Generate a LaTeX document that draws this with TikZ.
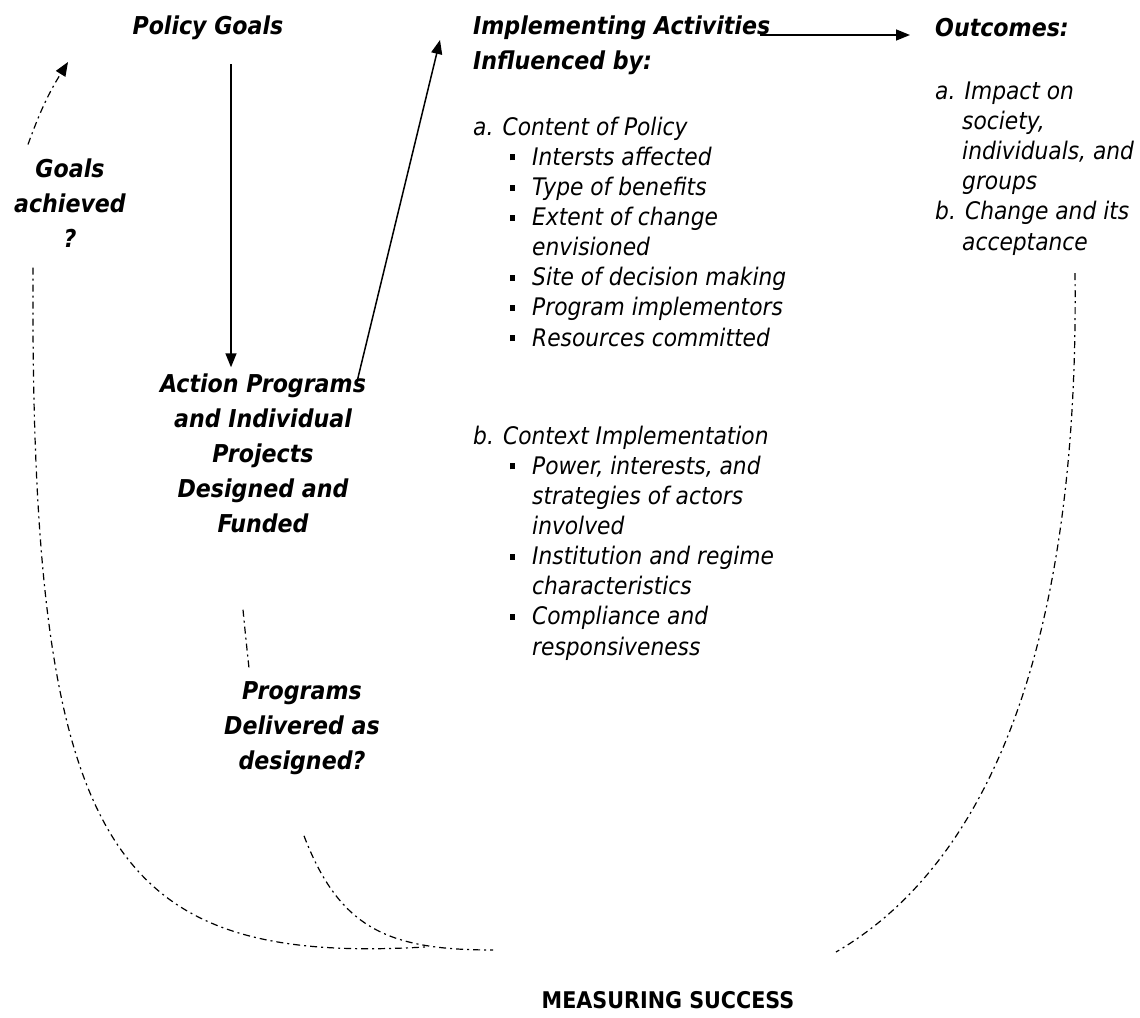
\documentclass[tikz,border=0pt]{standalone}
\usepackage{fontspec}
\setmainfont{DejaVu Sans Condensed}[
  ItalicFont={DejaVu Sans Condensed Oblique},
  BoldFont={DejaVu Sans Condensed Bold},
  BoldItalicFont={DejaVu Sans Condensed Bold Oblique}]
\usetikzlibrary{positioning,arrows.meta,calc}
\newcommand{\itm}{\makebox[59pt][l]{\hspace{37pt}\rule[5pt]{5pt}{6pt}}}
\newcommand{\cnt}{\hspace{59pt}}
\newcommand{\ind}{\hspace{27pt}}

\begin{document}
\begin{tikzpicture}[x=1pt,y=-1pt,
hd/.style={font=\bfseries\itshape\fontsize{24.6}{35}\selectfont,align=center,inner sep=0pt},
lst/.style={font=\itshape\fontsize{24.2}{30.1}\selectfont,align=left,inner sep=0pt,anchor=base west},
arr/.style={-{Triangle[length=14pt,width=11pt]},line width=1.5pt},
dd/.style={dash pattern=on 7pt off 4pt on 2pt off 4pt,line width=1.2pt}]
\useasboundingbox (0,0) rectangle (1140,1017);
% headings
\node[hd] (goals) at (208,28) {Policy Goals};
\node[hd] (ach) at (70,203) {Goals\\achieved\\?};
\node[hd] (act) at (263,453) {Action Programs\\and Individual\\Projects\\Designed and\\Funded};
\node[hd] (deliv) at (302,728) {Programs\\Delivered as\\designed?};
\node[hd,anchor=west] (impl) at (473,28) {Implementing Activities};
\node[hd,below=10pt of impl.south west,anchor=north west] (infl) {Influenced by:};
\node[hd,anchor=west] (outc) at (935,28) {Outcomes:};
% lists (anchored on the last line)
\node[lst] (conta) at (473,346) {a. Content of Policy\\
\itm Intersts affected\\
\itm Type of benefits\\
\itm Extent of change\\
\cnt envisioned\\
\itm Site of decision making\\
\itm Program implementors\\
\itm Resources committed};
\node[lst] (contb) at (473,655) {b. Context Implementation\\
\itm Power, interests, and\\
\cnt strategies of actors\\
\cnt involved\\
\itm Institution and regime\\
\cnt characteristics\\
\itm Compliance and\\
\cnt responsiveness};
\node[lst] (outl) at (935,250) {a. Impact on\\
\ind society,\\
\ind individuals, and\\
\ind groups\\
b. Change and its\\
\ind acceptance};
\node[font=\bfseries\fontsize{23}{26}\selectfont,inner sep=0pt] (ms) at (668,1000) {MEASURING SUCCESS};
% end points of the loops
\coordinate (achtip) at (68,62);
\coordinate (hubl) at (425,947);
\coordinate (hubm) at (493,950);
\coordinate (hubr) at (836,952);
% arrows
\draw[arr] ($(goals.south)+(23,24)$) -- ($(goals.south|-act.north)+(23,-6)$);
\draw[arr] ($(act.north east)+(-9,8)$) -- ($(impl.west)+(-33,12)$);
\draw[arr] ($(impl.east)+(-10,7)$) -- ($(outc.west)+(-25,7)$);
\draw[dd,-{Triangle[length=14pt,width=11pt]}] ($(ach.north)+(-42,-14)$) to[bend left=6] (achtip);
% loops
\draw[dd] ($(ach.south)+(-37,20)$) .. controls (30,850) and (110,965) .. (hubl);
\draw[dd] ($(act.south)+(-20,77)$) .. controls (246,640) .. ($(deliv.north)+(-53,-13)$);
\draw[dd] ($(deliv.south)+(2,61)$) .. controls (340,930) and (390,950) .. (hubm);
\draw[dd] ($(outl.south west)+(140,18)$) .. controls (1080,700) and (960,880) .. (hubr);
\end{tikzpicture}
\end{document}
